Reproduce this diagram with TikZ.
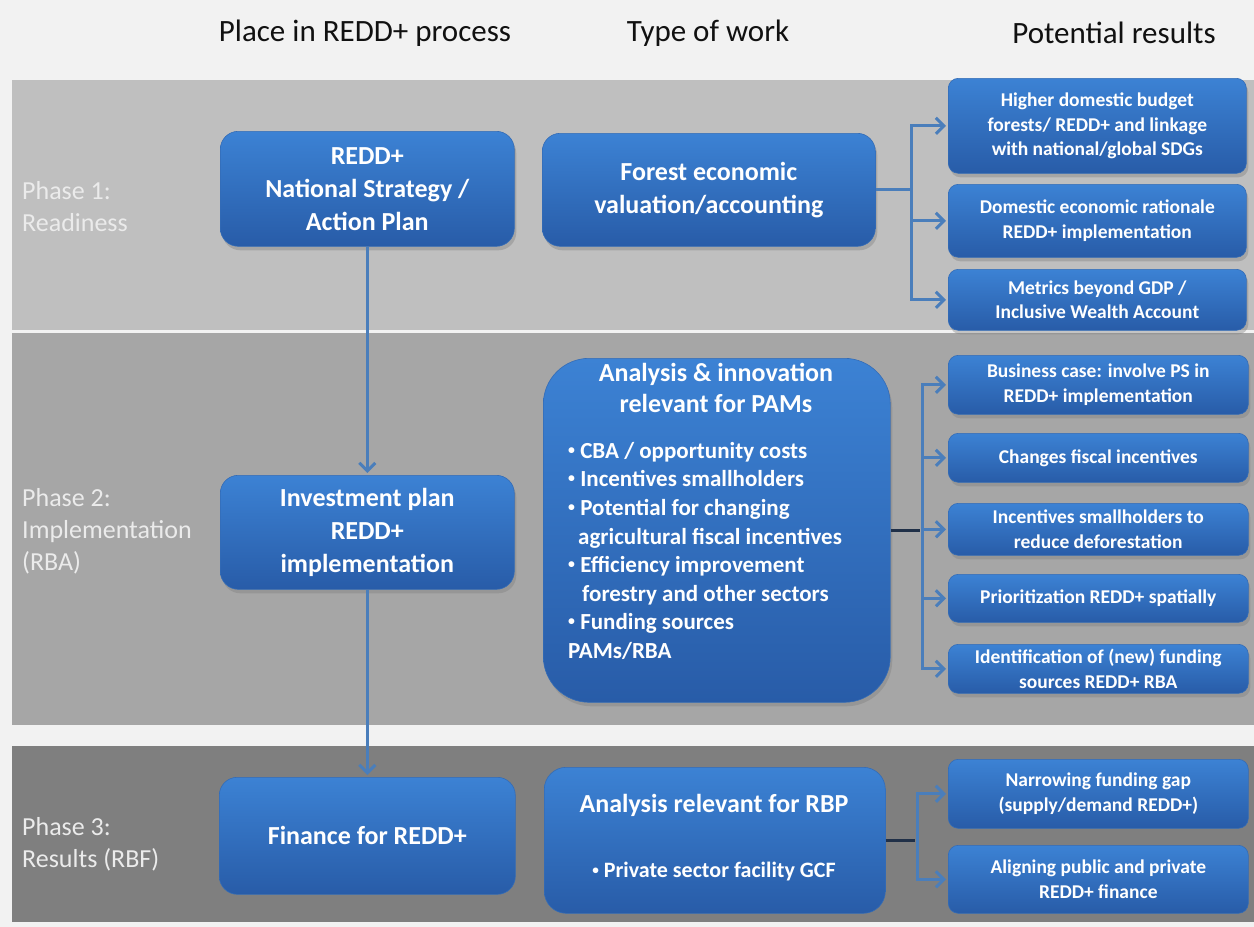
\documentclass[tikz,border=0pt]{standalone}
\usepackage{fontspec}
\setmainfont{Carlito}
\usetikzlibrary{arrows.meta,shadows,calc}

\definecolor{pagebg}{HTML}{F2F2F2}
\definecolor{bandA}{HTML}{BFBFBF}
\definecolor{bandB}{HTML}{A6A6A6}
\definecolor{bandC}{HTML}{7F7F7F}
\definecolor{boxtop}{RGB}{60,130,212}
\definecolor{boxbot}{RGB}{40,92,168}
\definecolor{boxedge}{RGB}{52,108,182}
\definecolor{linkblue}{RGB}{74,126,187}
\definecolor{stubdark}{RGB}{32,48,72}
\definecolor{phasetxt}{HTML}{EBEBEB}
\definecolor{hdrtxt}{HTML}{111111}

% small list bullet
\newcommand\listdot{\raisebox{0.18em}{\scalebox{0.6}{•}}}

\tikzset{
  bluebox/.style={rectangle, rounded corners=#1, top color=boxtop, bottom color=boxbot,
    draw=boxedge, line width=0.6pt,
    drop shadow={shadow xshift=2pt, shadow yshift=-4pt, opacity=0.4},
    anchor=north west, text=white, align=center, inner sep=0pt},
  mainbox/.style={bluebox=18pt, font=\fontsize{26}{33}\selectfont\bfseries},
  resbox/.style={bluebox=10pt, minimum width=298pt, font=\fontsize{19.5}{24.5}\selectfont\bfseries},
  hdr/.style={font=\fontsize{31}{37}\selectfont, text=hdrtxt, inner sep=0pt},
  phase/.style={font=\fontsize{26}{32}\selectfont, text=phasetxt, align=left, anchor=west, inner sep=0pt},
  boxtext/.style={text=white, inner sep=0pt},
  link/.style={draw=linkblue, line width=3pt},
  tip/.style={-{Straight Barb[length=8pt,width=16pt,line width=3pt]}, shorten >=2pt},
  stub/.style={draw=stubdark, line width=3pt}
}

\begin{document}
\begin{tikzpicture}[x=1pt,y=-1pt]
  \useasboundingbox (0,0) rectangle (1254,927);

  % page and phase bands
  \fill[pagebg] (0,0) rectangle (1254,927);
  \fill[bandA] (12,80) rectangle (1254,330);
  \fill[bandB] (12,333) rectangle (1254,725);
  \fill[bandC] (12,746) rectangle (1254,922);

  % column headings
  \node[hdr] (h1) at (365,33) {Place in REDD+ process};
  \node[hdr] (h2) at (708,33) {Type of work};
  \node[hdr] (h3) at (1114,33) {Potential results};

  % phase labels
  \node[phase] (ph1) at (22,207) {Phase 1:\\Readiness};
  \node[phase] (ph2) at (22,531) {Phase 2:\\Implementation\\(RBA)};
  \node[phase] (ph3) at (22,844) {Phase 3:\\Results (RBF)};

  % phase 1
  \node[mainbox, minimum width=294pt, minimum height=115pt] (a1) at (220,131)
    {REDD+\\National Strategy /\\Action Plan};
  \node[mainbox, minimum width=333pt, minimum height=113pt] (a2) at (542,133)
    {Forest economic\\valuation/accounting};
  \node[resbox, minimum height=95pt] (r1) at (948,78)
    {Higher domestic budget\\forests/ REDD+ and linkage\\with national/global SDGs};
  \node[resbox, minimum height=73pt] (r2) at (948,184)
    {Domestic economic rationale\\REDD+ implementation};
  \node[resbox, minimum height=61pt] (r3) at (948,269)
    {Metrics beyond GDP /\\Inclusive Wealth Account};

  % phase 2
  \node[mainbox, minimum width=294pt, minimum height=114pt] (b1) at (220,475)
    {Investment plan\\REDD+\\implementation};
  \node[bluebox=46pt, minimum width=347pt, minimum height=344pt] (b2) at (543,358) {};
  \node[boxtext, font=\fontsize{26}{31}\selectfont\bfseries, align=center] (b2t) at (716,388)
    {Analysis \& innovation\\relevant for PAMs};
  \node[boxtext, font=\fontsize{23}{28.6}\selectfont\bfseries, align=left, anchor=north west] (b2l) at (568,442)
    {\listdot\ CBA / opportunity costs\\
     \listdot\ Incentives smallholders\\
     \listdot\ Potential for changing\\
     \hspace*{10pt}agricultural fiscal incentives\\
     \listdot\ Efficiency improvement\\
     \hspace*{14pt}forestry and other sectors\\
     \listdot\ Funding sources\\
     PAMs/RBA};
  \node[resbox, minimum width=300pt, minimum height=59pt] (p1) at (948,355)
    {Business case: involve PS in\\REDD+ implementation};
  \node[resbox, minimum width=300pt, minimum height=49pt] (p2) at (948,433)
    {Changes fiscal incentives};
  \node[resbox, minimum width=300pt, minimum height=52pt] (p3) at (948,503)
    {Incentives smallholders to\\reduce deforestation};
  \node[resbox, minimum width=300pt, minimum height=48pt] (p4) at (948,574)
    {Prioritization REDD+ spatially};
  \node[resbox, minimum width=300pt, minimum height=49pt] (p5) at (948,644)
    {Identification of (new) funding\\sources REDD+ RBA};

  % phase 3
  \node[mainbox, minimum width=296pt, minimum height=117pt] (c1) at (219,777)
    {Finance for REDD+};
  \node[bluebox=22pt, minimum width=341pt, minimum height=146pt] (c2) at (544,767) {};
  \node[boxtext, font=\fontsize{26}{31}\selectfont\bfseries] (c2t) at (714,805)
    {Analysis relevant for RBP};
  \node[boxtext, font=\fontsize{22}{27}\selectfont\bfseries] (c2l) at (714,872)
    {\listdot\ Private sector facility GCF};
  \node[resbox, minimum width=300pt, minimum height=69pt] (s1) at (948,759)
    {Narrowing funding gap\\(supply/demand REDD+)};
  \node[resbox, minimum width=300pt, minimum height=68pt] (s2) at (948,845)
    {Aligning public and private\\REDD+ finance};

  % process chain
  \draw[link, tip] (a1.south) -- (b1.north);
  \draw[link, tip] (b1.south) -- (c1.north);

  % phase 1 results
  \coordinate (j1) at ($(a2.east)+(36,0)$);
  \draw[link] (a2.east) -- (j1);
  \foreach \r in {r1,r2,r3}
    \draw[link, tip] (j1) |- (\r.west);

  % phase 2 results
  \coordinate (j2) at ($(b2.east)+(32,0)$);
  \foreach \r in {p1,p2,p3,p4,p5}
    \draw[link, tip] (j2) |- (\r.west);
  \draw[stub] (b2.east) -- ($(j2)+(-3,0)$);

  % phase 3 results
  \coordinate (j3) at ($(c2.east)+(32,0)$);
  \foreach \r in {s1,s2}
    \draw[link, tip] (j3) |- (\r.west);
  \draw[stub] (c2.east) -- ($(j3)+(-3,0)$);
\end{tikzpicture}
\end{document}
